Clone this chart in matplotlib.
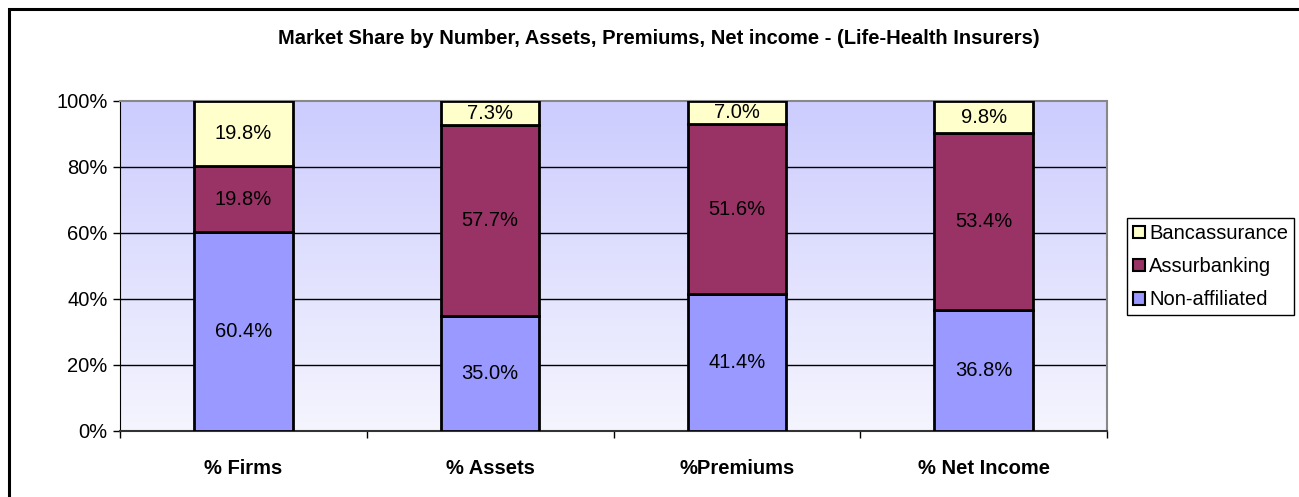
import matplotlib
matplotlib.use("Agg")
import matplotlib.pyplot as plt
import numpy as np
from matplotlib.patches import Rectangle, Patch
from matplotlib.colors import LinearSegmentedColormap

categories = ["% Firms", "% Assets", "%Premiums", "% Net Income"]
non_affiliated = [60.4, 35.0, 41.4, 36.8]
assurbanking = [19.8, 57.7, 51.6, 53.4]
bancassurance = [19.8, 7.3, 7.0, 9.8]
series_names = ["Non-affiliated", "Assurbanking", "Bancassurance"]
colors = ["#9999FF", "#993366", "#FFFFCC"]
yticks = [0, 20, 40, 60, 80, 100]
title = "Market Share by Number, Assets, Premiums, Net income - (Life-Health Insurers)"

plt.rcParams['font.family'] = ['Liberation Sans', 'DejaVu Sans']
FS = 14.5

W, H = 1299, 497
fig = plt.figure(figsize=(W / 100, H / 100), dpi=100)

# outer frame
fig.patches.append(Rectangle((8.5 / W, -0.1), 1.2, 1 - 9 / H + 0.1,
                             transform=fig.transFigure, fill=False,
                             edgecolor="black", linewidth=2.2, zorder=0))

ax = fig.add_axes([120 / W, 1 - 431 / H, (1107 - 120) / W, (431 - 101) / H])

# gradient background
cmap = LinearSegmentedColormap.from_list("bg", ["#F5F5FE", "#CCCCFF"])
grad = np.linspace(0, 1, 256).reshape(-1, 1)
ax.imshow(grad, aspect="auto", cmap=cmap, origin="lower",
          extent=[-0.5, 3.5, 0, 100], zorder=0)

x = np.arange(len(categories))
bottom = np.zeros(len(categories))
for vals, name, col in zip([non_affiliated, assurbanking, bancassurance], series_names, colors):
    vals = np.array(vals)
    ax.bar(x, vals, width=0.4, bottom=bottom, color=col, edgecolor="black",
           linewidth=2.0, zorder=3, label=name)
    for xi, b, v in zip(x, bottom, vals):
        ax.text(xi, b + v / 2, f"{v:.1f}%", ha="center", va="center",
                fontsize=FS, color="black", zorder=4)
    bottom += vals

ax.set_xlim(-0.5, 3.5)
ax.set_ylim(0, 100)
ax.set_yticks(yticks)
ax.set_yticklabels([f"{t}%" for t in yticks], fontsize=FS)
for t in yticks[1:-1]:
    ax.axhline(t, color="black", linewidth=1.0, zorder=1)

ax.set_xticks(x)
ax.set_xticklabels(categories, fontsize=FS, fontweight="bold")
ax.tick_params(axis="x", which="major", length=0, pad=20)
ax.set_xticks(np.arange(-0.5, 4.0, 1.0), minor=True)
ax.tick_params(axis="x", which="minor", length=5, direction="out", width=1)
ax.tick_params(axis="y", length=5, direction="out", width=1, pad=4)

ax.spines["left"].set_color("black")
ax.spines["bottom"].set_color("#333333")
ax.spines["bottom"].set_linewidth(1.5)
ax.spines["top"].set_color("#888888")
ax.spines["top"].set_linewidth(1.5)
ax.spines["right"].set_color("#888888")
ax.spines["right"].set_linewidth(1.5)

fig.text(659 / W, 1 - 38 / H, title, ha="center", va="center",
         fontsize=FS, fontweight="bold")

handles = [Patch(facecolor=c, edgecolor="black", linewidth=1.5) for c in colors]
order = [2, 1, 0]
leg = fig.legend([handles[i] for i in order], [series_names[i] for i in order],
                 loc="upper left", bbox_to_anchor=(1127 / W, 1 - 218 / H),
                 fontsize=FS, frameon=True, fancybox=False, framealpha=1,
                 edgecolor="black", handlelength=0.6, handleheight=0.6,
                 handletextpad=0.2, labelspacing=0.7, borderpad=0.3,
                 borderaxespad=0)
leg.get_frame().set_linewidth(1.0)

fig.savefig("out.png", dpi=100)
